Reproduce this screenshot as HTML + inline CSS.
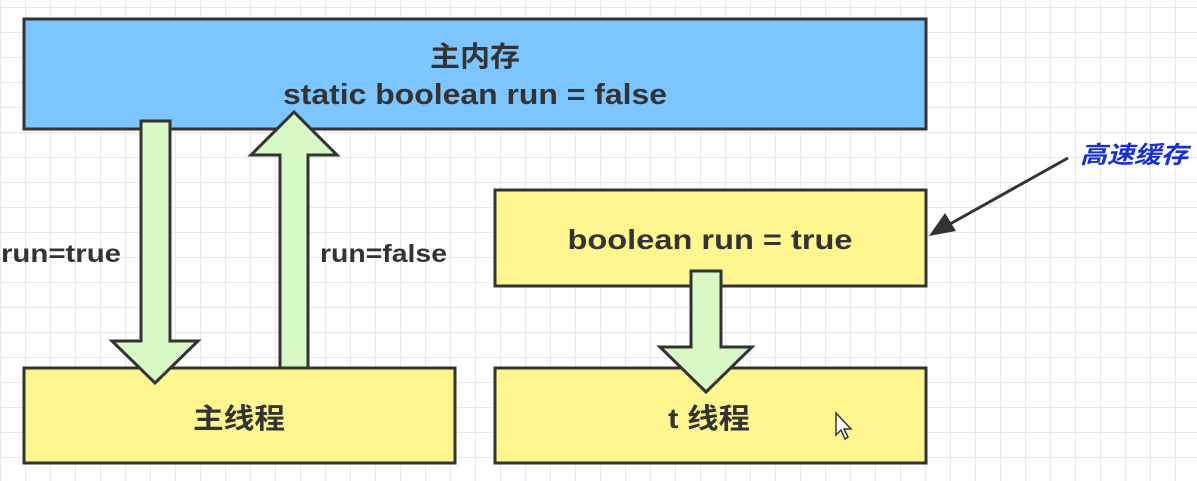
<!DOCTYPE html>
<html><head><meta charset="utf-8"><style>
body{margin:0;width:1197px;height:481px;overflow:hidden;background:#fff;
background-image:linear-gradient(#e8e8e8 1px,transparent 1px),linear-gradient(90deg,#e8e8e8 1px,transparent 1px);
background-size:25px 25px;background-position:0 7px;font-family:"Liberation Sans","Noto Sans CJK SC",sans-serif;}
</style></head><body>
<svg width="1197" height="481" style="position:absolute;left:0;top:0" font-family="Liberation Sans, Noto Sans CJK SC, sans-serif" font-weight="bold">
<rect x="24" y="19" width="902" height="110" fill="#7cc5fe" stroke="#333" stroke-width="3"/>
<text x="475" y="66" text-anchor="middle" font-size="28" fill="#333" textLength="90" lengthAdjust="spacingAndGlyphs">主内存</text>
<text x="475" y="104" text-anchor="middle" font-size="29" fill="#333" textLength="384" lengthAdjust="spacingAndGlyphs">static boolean run = false</text>
<rect x="24" y="368" width="431" height="95" fill="#fff68f" stroke="#333" stroke-width="3"/>
<text x="239" y="428" text-anchor="middle" font-size="28" fill="#333" textLength="92" lengthAdjust="spacingAndGlyphs">主线程</text>
<rect x="495" y="190" width="431" height="96" fill="#fff68f" stroke="#333" stroke-width="3"/>
<text x="710" y="249" text-anchor="middle" font-size="28" fill="#333" textLength="285" lengthAdjust="spacingAndGlyphs">boolean run = true</text>
<rect x="495" y="368" width="431" height="95" fill="#fff68f" stroke="#333" stroke-width="3"/>
<text x="709" y="428" text-anchor="middle" font-size="28" fill="#333" textLength="82" lengthAdjust="spacingAndGlyphs">t 线程</text>
<polygon points="141,121 170,121 170,341 198,341 155,383 112,341 141,341" fill="#d8f8c6" stroke="#333" stroke-width="3"/>
<polygon points="280,368 308,368 308,155 337,155 294,112 251,155 280,155" fill="#d8f8c6" stroke="#333" stroke-width="3"/>
<polygon points="691,271 721,271 721,347 752,347 706,392 660,347 691,347" fill="#d8f8c6" stroke="#333" stroke-width="3"/>
<text x="1" y="262" font-size="25" fill="#333" textLength="120" lengthAdjust="spacingAndGlyphs">run=true</text>
<text x="320" y="262" font-size="25" fill="#333" textLength="127" lengthAdjust="spacingAndGlyphs">run=false</text>
<line x1="1068" y1="158" x2="950" y2="224" stroke="#333" stroke-width="3"/>
<polygon points="929,236 945,213 956,231" fill="#333"/>
<text x="1080" y="163" font-size="24" font-style="italic" font-weight="bold" fill="#1a2fd0" textLength="108" lengthAdjust="spacingAndGlyphs">高速缓存</text>
<path d="M836,413 L836,435 L841,430 L845,439 L848,437 L844,429 L851,429 Z" fill="#fff" stroke="#333" stroke-width="1.5"/>
</svg>
</body></html>
